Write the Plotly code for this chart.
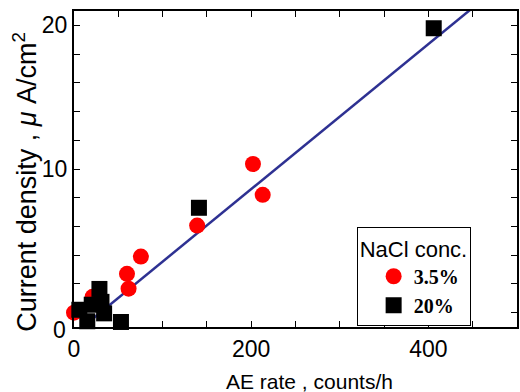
import plotly.graph_objects as go

# Data
x_35 = [0, 21, 61.6, 59.8, 75.5, 139, 202, 213]
y_35 = [0.0, 1.1, 1.67, 2.7, 3.9, 6.06, 10.35, 8.2]

x_20 = [6, 15, 20, 28.7, 31, 34, 53, 141, 406]
y_20 = [0.2, -0.6, 0.55, 1.65, 0.75, -0.05, -0.65, 7.3, 19.8]

fit_slope = 0.0505
fit_intercept = -1.5
fit_x = [0, 480]

x_tickvals = list(range(0, 501, 50))
x_ticklabels = ["0", "", "", "", "200", "", "", "", "400", "", ""]
y_tickvals = list(range(0, 21, 2))
y_ticklabels = ["", "", "", "", "", "10", "", "", "", "", "20"]

fit_y = [fit_slope * v + fit_intercept for v in fit_x]

fig = go.Figure()
fig.add_trace(go.Scatter(x=fit_x, y=fit_y, mode="lines",
                         line=dict(color="#2e3192", width=2.5),
                         showlegend=False, hoverinfo="skip"))
fig.add_trace(go.Scatter(x=x_35, y=y_35, mode="markers", name="3.5%",
                         marker=dict(symbol="circle", size=16, color="#ff0000"),
                         cliponaxis=False))
fig.add_trace(go.Scatter(x=x_20, y=y_20, mode="markers", name="20%",
                         marker=dict(symbol="square", size=16, color="#000000"),
                         cliponaxis=False))

axis_font = dict(family="Liberation Sans, Arial", size=23, color="black")
fig.update_xaxes(range=[0, 500], tickmode="array", tickvals=x_tickvals,
                 ticktext=x_ticklabels, ticks="inside", ticklen=6, tickwidth=1,
                 tickcolor="black", showline=True, linecolor="black", linewidth=2,
                 mirror="allticks", showgrid=False, zeroline=False, tickfont=axis_font)
fig.update_yaxes(range=[-1, 21], tickmode="array", tickvals=y_tickvals,
                 ticktext=y_ticklabels, ticks="inside", ticklen=6, tickwidth=1,
                 tickcolor="black", showline=True, linecolor="black", linewidth=2,
                 mirror="allticks", showgrid=False, zeroline=False, tickfont=axis_font)

fig.add_annotation(text="0", xref="paper", yref="y", x=0, y=0, xanchor="right",
                   yanchor="middle", xshift=-6, yshift=-17, showarrow=False,
                   font=axis_font)
fig.add_annotation(text="AE rate , counts/h", xref="paper", yref="paper",
                   x=0.532, y=-0.174, xanchor="center", yanchor="middle",
                   showarrow=False,
                   font=dict(family="Liberation Sans, Arial", size=21, color="black"))
fig.add_annotation(text="Current density , <i>μ</i> A/cm<sup>2</sup>",
                   xref="paper", yref="paper", x=-0.111, y=0.459,
                   xanchor="center", yanchor="middle", textangle=-90,
                   showarrow=False,
                   font=dict(family="Liberation Sans, Arial", size=27, color="black"))

fig.update_layout(
    width=520, height=392,
    margin=dict(l=74, r=1, t=11, b=65),
    paper_bgcolor="white", plot_bgcolor="white",
    legend=dict(x=0.638, y=0.316, xanchor="left", yanchor="top",
                bordercolor="black", borderwidth=1, bgcolor="white",
                indentation=16,
                title=dict(text="NaCl conc.",
                           font=dict(family="Liberation Sans, Arial", size=22,
                                     color="black", weight="normal")),
                font=dict(family="Liberation Serif, Times New Roman", size=20,
                          color="black", weight="bold")),
)

fig.write_html("out.html", config={"displayModeBar": False},
               post_script="document.body.style.margin='0';document.body.style.padding='0';")
